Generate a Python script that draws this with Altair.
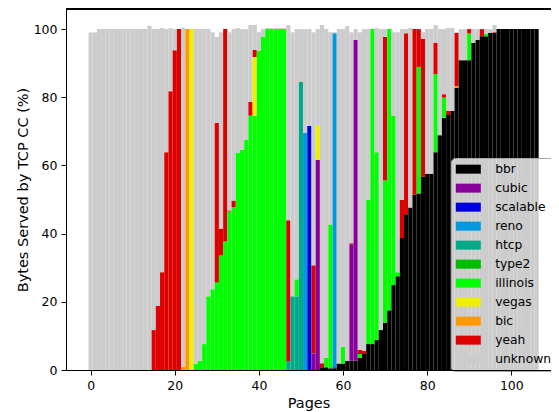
import altair as alt
import pandas as pd

cats = ["bbr", "cubic", "scalable", "reno", "htcp", "type2", "illinois",
        "vegas", "bic", "yeah", "unknown"]
colors = ["#000000", "#880099", "#0000dd", "#0099dd", "#00aa88", "#00bb00",
          "#00ff00", "#eeee00", "#ff9900", "#dd0000", "#cccccc"]

pages = list(range(107))

# total bar height per page (%)
totals = [
    99, 99, 100, 100, 100, 100, 100, 100, 100, 100,
    100, 100, 100, 100, 101, 100, 100, 100.3, 100, 100.3,
    100, 100, 100.3, 100, 100, 100, 100, 100, 100, 99.1,
    97.7, 99.1, 100, 99.1, 100, 100.3, 100, 100, 101.2, 101.2,
    99.1, 100, 100.3, 100.3, 100.3, 100.3, 100.3, 101.2, 99.1, 100,
    100, 100, 100, 99.1, 100, 101.2, 100, 99.1, 99.1, 100,
    100, 100.9, 99.1, 100, 99.1, 100, 100, 100, 100.3, 100,
    100, 100, 99.1, 99.1, 100, 100, 100.3, 100, 100, 99.1,
    100, 100, 101.2, 100, 100, 100.3, 100.3, 99.1, 100, 100,
    100, 100, 100, 100, 100, 100, 101.2, 100, 100, 100,
    100, 100, 100, 100, 100, 100, 100]

bbr = [0] * 55 + [
    0.8, 0.8, 0.5, 0.5, 1.9, 1.9, 2.7, 2.7, 2.7, 3.5,
    4.7, 7.6, 7.6, 8.8, 11.7, 13.9, 17.5, 24.9, 27.5, 38.7,
    45.7, 47.7, 51.5, 51.8, 56.7, 57.6, 57.6, 63.9, 68.9, 74.0,
    74.8, 76.0, 82.8, 90.9, 90.9, 90.9, 96.0, 96.8, 97.9, 97.9,
    98.9, 98.9] + [100] * 10

cubic = {53: 4.9, 54: 61.7, 62: 34.2, 63: 94.1}
scalable = {52: 71.6, 58: 0.3}
reno = {51: 69.6, 58: 98.0}
htcp = {47: 2.6, 48: 21.6, 49: 21.6, 50: 84.5}
type2 = {}
illinois = {25: 1.8, 26: 2.7, 27: 7.6, 28: 21.6, 29: 23.7, 30: 25.7, 31: 33.6,
            32: 37.7, 33: 46.5, 34: 47.7, 35: 63.7, 36: 64.6, 37: 67.5, 38: 74.6,
            39: 74.6, 40: 93.6, 41: 97.7, 42: 100, 43: 100, 44: 100, 45: 100,
            46: 100, 49: 5.0, 56: 2.8, 57: 42.2, 60: 4.9, 64: 1.2, 66: 42.3,
            67: 92.4, 68: 55.1, 70: 41.7, 71: 82.5, 72: 49.7, 73: 1.2, 78: 37.1,
            82: 22.9, 84: 5.9, 90: 7.8, 94: 0.8}
vegas = {24: 100, 39: 17.2, 54: 9.9}
bic = {22: 1.0, 23: 100, 87: 0.5}
yeah = {15: 11.7, 16: 18.8, 17: 28.7, 18: 63.9, 19: 81.8, 20: 93.8, 21: 100,
        30: 46.8, 31: 7.9, 32: 62.3, 33: 0.3, 34: 2.0, 38: 4.1, 39: 2.1,
        47: 41.3, 53: 25.8, 55: 1.2, 62: 0.3, 64: 1.2, 65: 0.9, 70: 42.1,
        74: 11.2, 75: 53.1, 77: 48.5, 78: 11.1, 79: 40.4, 82: 9.2, 84: 1.0,
        85: 1.2, 87: 15.6, 90: 1.3, 93: 2.1, 96: 0.2}

series = {"bbr": dict(enumerate(bbr)), "cubic": cubic, "scalable": scalable,
          "reno": reno, "htcp": htcp, "type2": type2, "illinois": illinois,
          "vegas": vegas, "bic": bic, "yeah": yeah}

rows = []
for p in pages:
    used = 0.0
    for i, c in enumerate(cats[:-1]):
        v = series[c].get(p, 0)
        if v > 0:
            rows.append({"page": p, "cc": c, "order": i, "value": v})
            used += v
    rest = round(totals[p] - used, 2)
    if rest > 0:
        rows.append({"page": p, "cc": "unknown", "order": 10, "value": rest})
df = pd.DataFrame(rows)

FONT = "DejaVu Sans"
X_DOMAIN = [-5.85, 109.43]
Y_DOMAIN = [0, 105.9]
W, H = 485, 361

legend = alt.Legend(
    title=None, orient="none", legendX=385, legendY=149,
    symbolType="M-2.78,-1L2.78,-1L2.78,1L-2.78,1Z", symbolSize=81,
    symbolStrokeWidth=0, symbolOffset=6.15, labelOffset=20.7,
    labelFontSize=12.3, labelFont=FONT, labelColor="black", labelLimit=0,
    rowPadding=6.0, padding=5, fillColor="rgba(255,255,255,0.8)",
    strokeColor="#aaaaaa", cornerRadius=4, symbolOpacity=1)

axis_common = dict(tickSize=5, labelFontSize=12.5,
                   titleFontSize=14.5, grid=False, domainColor="black",
                   tickColor="black", labelColor="black", titleColor="black",
                   titleFontWeight="normal", labelFont=FONT, titleFont=FONT,
                   format="d", zindex=1)

bars = alt.Chart(df).transform_calculate(
    x0="datum.page - 0.5", x1="datum.page + 0.5"
).transform_stack(
    stack="value", groupby=["page"], as_=["y0", "y1"],
    sort=[alt.SortField(field="order", order="ascending")]
).mark_rect(strokeWidth=0).encode(
    x=alt.X("x0:Q", scale=alt.Scale(domain=X_DOMAIN, nice=False, zero=False),
            axis=alt.Axis(values=[0, 20, 40, 60, 80, 100], title="Pages",
                          labelPadding=4, titlePadding=5, **axis_common)),
    x2="x1:Q",
    y=alt.Y("y0:Q", scale=alt.Scale(domain=Y_DOMAIN, nice=False),
            axis=alt.Axis(values=[0, 20, 40, 60, 80, 100],
                          title="Bytes Served by TCP CC (%)",
                          labelPadding=4, titlePadding=3, **axis_common)),
    y2="y1:Q",
    color=alt.Color("cc:N", scale=alt.Scale(domain=cats, range=colors), legend=legend),
)

# top spine of the frame (the right spine lies outside the cropped picture)
top_spine = alt.Chart(df).mark_rule(color="black", strokeWidth=1).encode(
    y=alt.datum(Y_DOMAIN[1]), x=alt.value(0), x2=alt.value(W)
)

chart = alt.layer(bars, top_spine).properties(
    width=W, height=H,
    autosize=alt.AutoSizeParams(type="none"),
    padding={"left": 58, "top": 1, "right": 0, "bottom": 42},
    background="white",
).configure_view(stroke=None)

chart.save("out.html", embed_options={"renderer": "svg", "actions": False})
